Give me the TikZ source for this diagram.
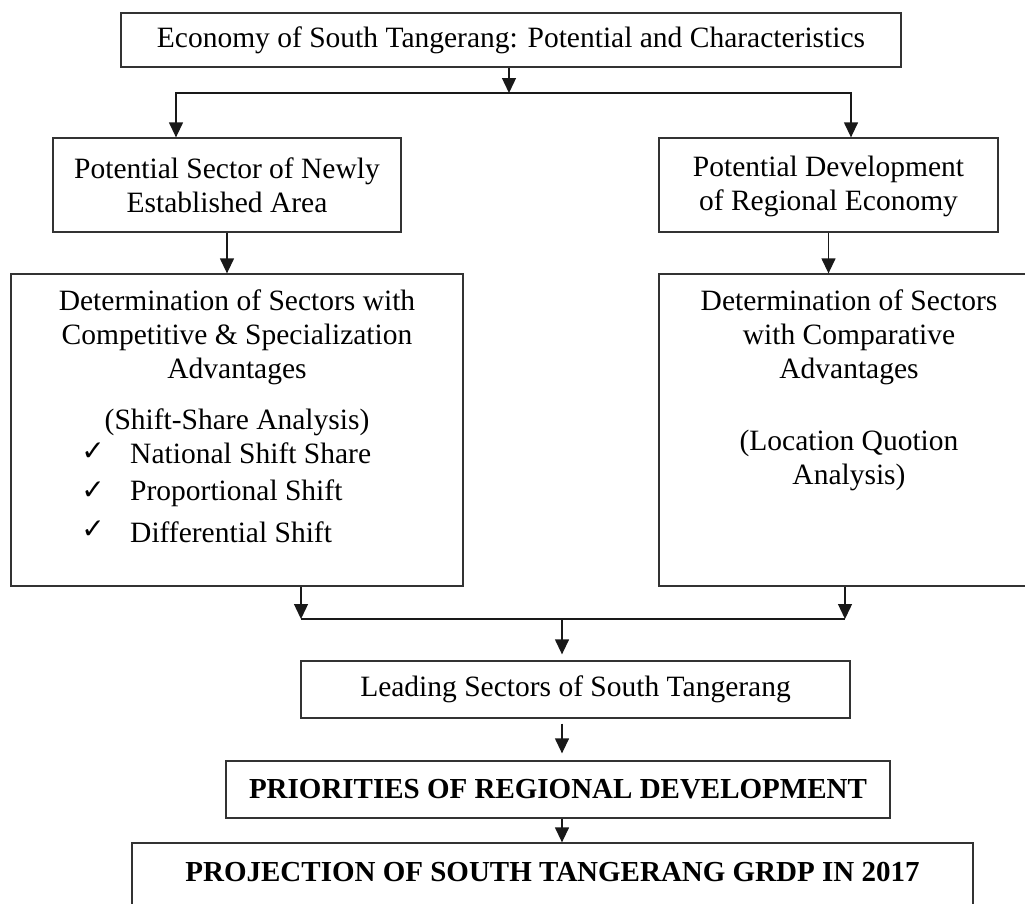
\documentclass[tikz,border=0pt]{standalone}
\usepackage{fontspec}
\setmainfont{Liberation Serif}
\newfontfamily\symfont{DejaVu Sans}
\usetikzlibrary{arrows.meta}
\begin{document}
\begin{tikzpicture}[x=1pt,y=-1pt,
  box/.style={draw=black!80, line width=1.3pt, inner sep=0pt, align=center, font=\fontsize{29.5}{34}\selectfont},
  txt/.style={inner sep=0pt, align=center, font=\fontsize{29.5}{34}\selectfont},
  btxt/.style={inner sep=0pt, font=\fontsize{29}{34}\selectfont\bfseries},
  chk/.style={inner sep=0pt, font=\symfont\fontsize{28}{28}\selectfont},
  conn/.style={line width=1.3pt, draw=black!90},
  arr/.style={conn, -{Triangle[width=14pt,length=15pt]}}]
\useasboundingbox (0,0) rectangle (1025,903);
\clip (0,0) rectangle (1025,903);
% boxes
\node[box, minimum width=780pt, minimum height=54pt] (top) at (511,40) {Economy of South Tangerang: Potential and Characteristics};
\node[box, minimum width=348pt, minimum height=94pt] (L2) at (227,185) {Potential Sector of Newly\\Established Area};
\node[box, minimum width=339pt, minimum height=94pt] (R2) at (828.5,185) {};
\node[txt] (r2t) at (828.5,186) {Potential Development\\of Regional Economy};
\node[box, minimum width=452pt, minimum height=312pt] (L3) at (237,430) {};
\node[box, minimum width=381pt, minimum height=312pt] (R3) at (849.5,430) {};
\node[box, minimum width=549pt, minimum height=57pt] (Lead) at (575.5,689.5) {Leading Sectors of South Tangerang};
\node[box, minimum width=664pt, minimum height=57pt] (Prio) at (558,789.5) {\bfseries\fontsize{29}{34}\selectfont PRIORITIES OF REGIONAL DEVELOPMENT};
\node[box, minimum width=841pt, minimum height=70pt] (Proj) at (552.5,878) {};
% texts inside large boxes
\node[txt] (l3a) at (237,337) {Determination of Sectors with\\Competitive \& Specialization\\Advantages};
\node[txt] (l3b) at (237,422) {(Shift-Share Analysis)};
\node[chk] (k1) at (93,452) {✓};
\node[chk] (k2) at (93,491) {✓};
\node[chk] (k3) at (93,530) {✓};
\node[txt, anchor=west] (i1) at (130,453) {National Shift Share};
\node[txt, anchor=west] (i2) at (130,493) {Proportional Shift};
\node[txt, anchor=west] (i3) at (130,532) {Differential Shift};
\node[txt] (r3a) at (849,337) {Determination of Sectors\\with Comparative\\Advantages};
\node[txt] (r3b) at (849,460) {(Location Quotion\\Analysis)};
\node[btxt] (projt) at (552.5,872) {PROJECTION OF SOUTH TANGERANG GRDP IN 2017};
% connectors
\coordinate (j1) at (509,93);
\draw[arr] (top.south -| j1) -- (j1);
\draw[arr] (j1) -| ([xshift=-51pt]L2.north);
\draw[arr] (j1) -| ([xshift=22.5pt]R2.north);
\draw[arr] (L2.south) -- (L2.south |- L3.north);
\draw[arr] (R2.south) -- (R2.south |- R3.north);
\coordinate (b1) at (301,619);
\coordinate (b2) at (845,619);
\coordinate (j2) at (562,619);
\draw[arr] (L3.south -| b1) -- (b1);
\draw[arr] (R3.south -| b2) -- (b2);
\draw[conn] (b1) -- (b2);
\draw[arr, shorten >=6pt] (j2) -- (Lead.north -| j2);
\draw[arr, shorten <=5pt, shorten >=7pt] (Lead.south -| j2) -- (Prio.north -| j2);
\draw[arr] (Prio.south -| j2) -- (Proj.north -| j2);
\end{tikzpicture}
\end{document}
